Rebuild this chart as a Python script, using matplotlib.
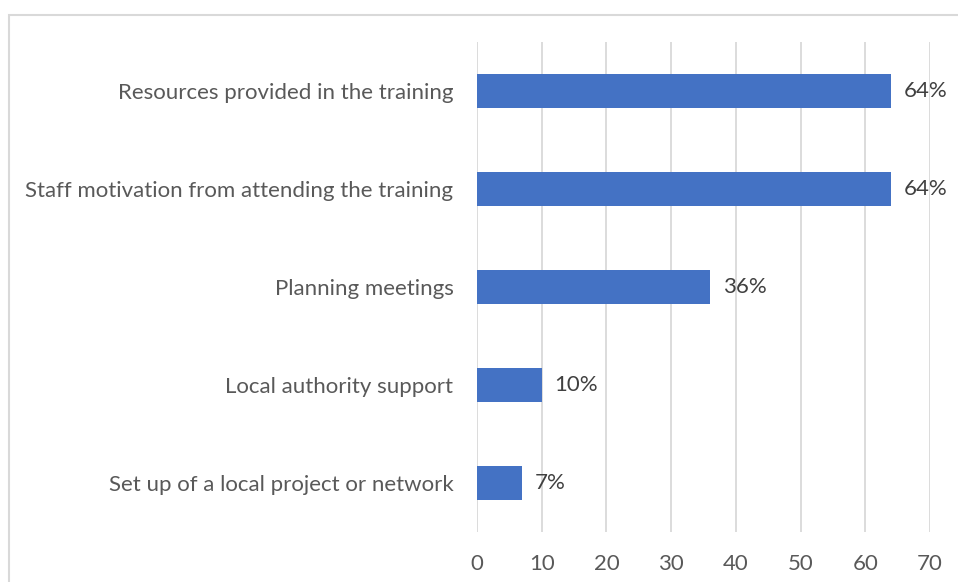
import matplotlib
matplotlib.use("Agg")
import matplotlib.pyplot as plt
from matplotlib.patches import Rectangle

# data, top to bottom as in the picture
categories = ["Resources provided in the training",
              "Staff motivation from attending the training",
              "Planning meetings",
              "Local authority support",
              "Set up of a local project or network"]
values = [64, 64, 36, 10, 7]
labels = ["64%", "64%", "36%", "10%", "7%"]
xticks = [0, 10, 20, 30, 40, 50, 60, 70]

plt.rcParams['font.family'] = ['Lato', 'DejaVu Sans']
text_col = "#595959"
grid_col = "#d9d9d9"
bar_col = "#4472C4"
fs = 16

W, H = 958, 582
fig = plt.figure(figsize=(W / 100, H / 100), dpi=100)
ax = fig.add_axes([477 / W, 50 / H, (930 - 477) / W, (532 - 42) / H])

# outer chart frame (cut off on the right and bottom)
fig.patches.append(Rectangle((8.5 / W, -0.1), 2, 1 - 14.5 / H + 0.1,
                             transform=fig.transFigure, fill=False,
                             edgecolor=grid_col, linewidth=1.5))

ypos = list(range(len(categories)))
ax.barh(ypos, values, height=0.35, color=bar_col)
for y, v, lab in zip(ypos, values, labels):
    ax.text(v + 2.0, y, lab, va="center", ha="left", fontsize=fs, color="#404040")

ax.set_xlim(0, 70)
ax.set_ylim(len(categories) - 0.5, -0.5)
ax.set_xticks(xticks)
ax.set_yticks(ypos)
ax.set_yticklabels(categories)
ax.xaxis.grid(True, color=grid_col, linewidth=1.3)
ax.set_axisbelow(True)
for s in ax.spines.values():
    s.set_visible(False)
ax.tick_params(axis="both", length=0, colors=text_col, labelsize=fs)
ax.tick_params(axis="y", pad=17)
ax.tick_params(axis="x", pad=16)

fig.savefig("out.png", dpi=100)
